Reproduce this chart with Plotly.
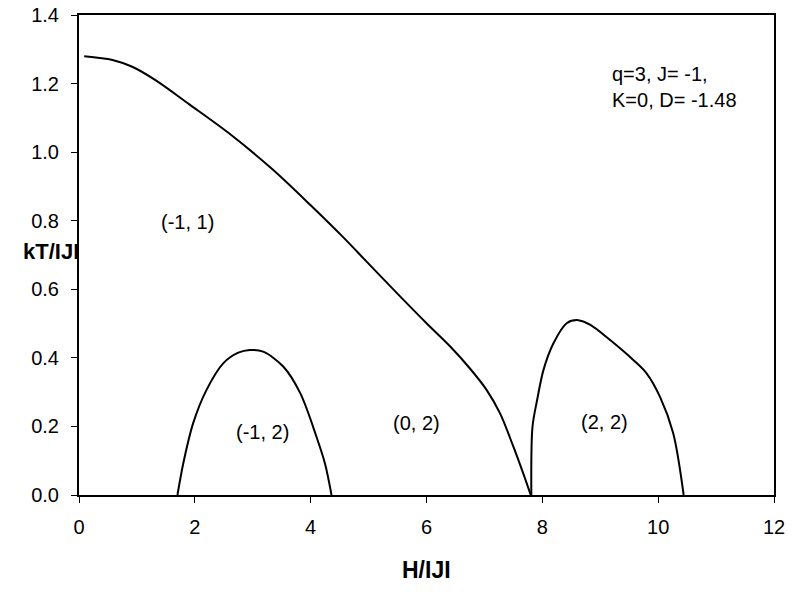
import plotly.graph_objects as go

# Main transition line (-1,1) | (0,2)
main_h = [0.09, 0.58, 0.92, 1.32, 1.90, 2.59, 3.34, 4.00, 4.56, 4.97, 5.54, 6.00, 6.41, 6.75, 7.04, 7.27, 7.50, 7.67, 7.80]
main_t = [1.280, 1.269, 1.249, 1.210, 1.140, 1.055, 0.950, 0.845, 0.752, 0.680, 0.580, 0.501, 0.433, 0.369, 0.306, 0.238, 0.141, 0.063, 0.0]

# Dome (-1,2)
d1_h = [1.70, 1.80, 1.97, 2.20, 2.49, 2.75, 2.95, 3.18, 3.53, 3.82, 4.10, 4.25, 4.36]
d1_t = [0.0, 0.092, 0.209, 0.306, 0.384, 0.415, 0.423, 0.418, 0.374, 0.297, 0.170, 0.090, 0.0]

# Dome (2,2)
d2_h = [7.81, 7.83, 7.91, 8.02, 8.19, 8.42, 8.62, 8.83, 9.17, 9.57, 9.80, 10.03, 10.26, 10.44]
d2_t = [0.0, 0.199, 0.277, 0.365, 0.442, 0.501, 0.510, 0.496, 0.452, 0.394, 0.355, 0.287, 0.180, 0.0]

region_labels = ["(-1, 1)", "(-1, 2)", "(0, 2)", "(2, 2)"]
region_h = [1.88, 3.16, 5.83, 9.08]
region_t = [0.796, 0.185, 0.209, 0.214]

x_ticks = [0, 2, 4, 6, 8, 10, 12]
y_ticks = [0.0, 0.2, 0.4, 0.6, 0.8, 1.0, 1.2, 1.4]

FONT = "Liberation Sans, Arial, sans-serif"

fig = go.Figure()
for hx, ty in [(main_h, main_t), (d1_h, d1_t), (d2_h, d2_t)]:
    fig.add_trace(go.Scatter(x=hx, y=ty, mode="lines",
                             line=dict(color="black", width=2, shape="spline", smoothing=0.9),
                             showlegend=False, hoverinfo="skip"))

for lab, hx, ty in zip(region_labels, region_h, region_t):
    fig.add_annotation(x=hx, y=ty, text=lab, showarrow=False,
                       font=dict(family=FONT, size=20, color="black"))

fig.add_annotation(x=9.17, y=1.19, text="q=3, J= -1,<br>K=0, D= -1.48", showarrow=False,
                   xanchor="left", yanchor="middle", align="left",
                   font=dict(family=FONT, size=20, color="black"))

fig.add_annotation(xref="paper", x=0.003, y=0.709, text="<b>kT/IJI</b>", showarrow=False,
                   xanchor="right", yanchor="middle",
                   font=dict(family=FONT, size=22, color="black"))

fig.add_annotation(x=6, yref="paper", y=-0.156, text="<b>H/IJI</b>", showarrow=False,
                   xanchor="center", yanchor="middle",
                   font=dict(family=FONT, size=23, color="black"))

fig.update_xaxes(range=[0, 12], tickvals=x_ticks, ticktext=[str(v) for v in x_ticks],
                 showline=True, linecolor="black", linewidth=2, mirror=True,
                 ticks="outside", ticklen=6, tickwidth=1, tickcolor="black",
                 showgrid=False, zeroline=False, automargin=False, ticklabelstandoff=7,
                 tickfont=dict(family=FONT, size=20, color="black"))
fig.update_yaxes(range=[0, 1.4], tickvals=y_ticks, ticktext=[f"{v:.1f}" for v in y_ticks],
                 showline=True, linecolor="black", linewidth=2, mirror=True,
                 ticks="outside", ticklen=6, tickwidth=1, tickcolor="black",
                 showgrid=False, zeroline=False, automargin=False, ticklabelstandoff=8,
                 tickfont=dict(family=FONT, size=20, color="black"))

fig.update_layout(width=794, height=592, margin=dict(l=79, r=20, t=15, b=97),
                  plot_bgcolor="white", paper_bgcolor="white")

fig.write_html("out.html")
